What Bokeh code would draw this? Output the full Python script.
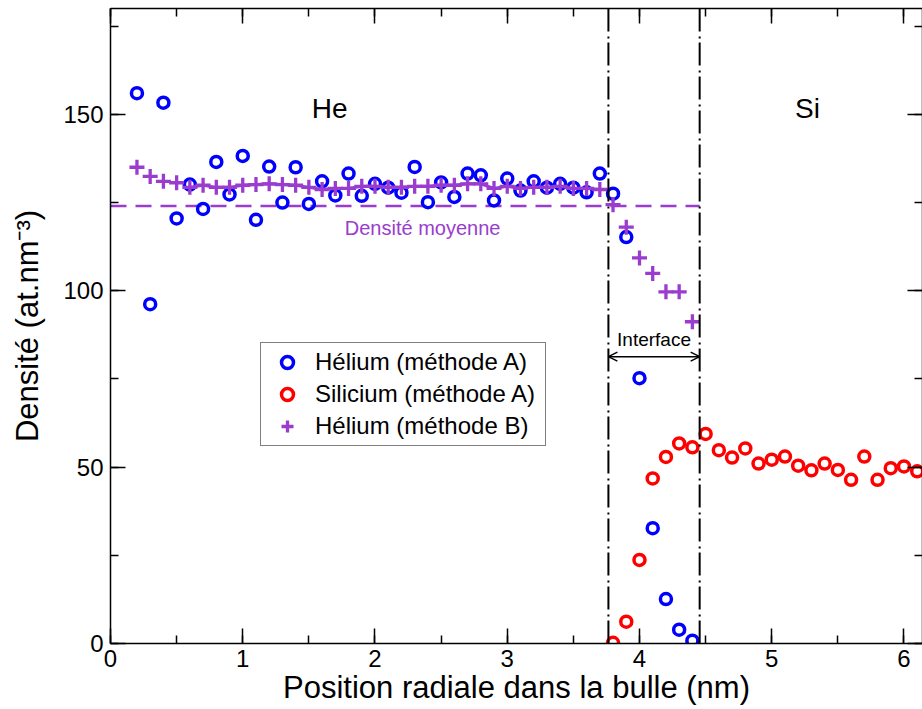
from bokeh.plotting import figure
from bokeh.models import (Span, Arrow, OpenHead, Label, Legend, LegendItem,
                          LinearAxis, SingleIntervalTicker, Range1d)
from bokeh.embed import file_html
from bokeh.resources import INLINE

# ---------------- data ----------------
he_a_x = [0.2, 0.3, 0.4, 0.5, 0.6, 0.7, 0.8, 0.9, 1.0, 1.1, 1.2, 1.3, 1.4, 1.5,
          1.6, 1.7, 1.8, 1.9, 2.0, 2.1, 2.2, 2.3, 2.4, 2.5, 2.6, 2.7, 2.8, 2.9,
          3.0, 3.1, 3.2, 3.3, 3.4, 3.5, 3.6, 3.7, 3.8, 3.9, 4.0, 4.1, 4.2, 4.3, 4.4]
he_a_y = [156.0, 96.2, 153.3, 120.5, 130.1, 123.2, 136.5, 127.3, 138.2, 120.1,
          135.2, 125.0, 135.0, 124.6, 131.0, 127.0, 133.2, 126.9, 130.3, 129.2,
          127.8, 135.1, 125.1, 130.7, 126.6, 133.2, 132.7, 125.6, 131.8, 128.4,
          131.0, 129.2, 130.3, 129.2, 127.9, 133.2, 127.5, 115.2, 75.2, 32.7,
          12.6, 3.9, 0.8]

si_a_x = [3.8, 3.9, 4.0, 4.1, 4.2, 4.3, 4.4, 4.5, 4.6, 4.7, 4.8, 4.9, 5.0, 5.1,
          5.2, 5.3, 5.4, 5.5, 5.6, 5.7, 5.8, 5.9, 6.0, 6.1]
si_a_y = [0.2, 6.2, 23.7, 46.8, 52.9, 56.7, 55.6, 59.4, 54.8, 52.7, 55.3, 51.0,
          52.1, 53.0, 50.4, 49.1, 51.0, 49.2, 46.4, 53.0, 46.4, 49.7, 50.2, 48.8]

he_b_x = [0.2, 0.3, 0.4, 0.5, 0.6, 0.7, 0.8, 0.9, 1.0, 1.1, 1.2, 1.3, 1.4, 1.5,
          1.6, 1.7, 1.8, 1.9, 2.0, 2.1, 2.2, 2.3, 2.4, 2.5, 2.6, 2.7, 2.8, 2.9,
          3.0, 3.1, 3.2, 3.3, 3.4, 3.5, 3.6, 3.7, 3.8, 3.9, 4.0, 4.1, 4.2, 4.3, 4.4]
he_b_y = [135.0, 132.4, 131.0, 130.6, 129.3, 129.9, 129.3, 129.3, 129.9, 130.1,
          130.3, 130.1, 129.9, 129.3, 128.7, 129.0, 129.0, 129.6, 129.6, 129.3,
          129.3, 129.6, 129.6, 129.9, 129.9, 130.3, 130.3, 129.0, 129.6, 129.0,
          129.3, 129.3, 129.6, 129.0, 129.0, 128.7, 124.4, 118.0, 109.3, 104.9,
          99.7, 99.7, 91.2]

# connecting line of method B (drawn over 0.6 - 3.7 nm)
he_b_line_x = he_b_x[4:36]
he_b_line_y = he_b_y[4:36]

mean_density = 124.0
interface_start = 3.765
interface_end = 4.455

PURPLE = "#9a3ccd"
FONT = "Liberation Sans"

# ---------------- figure ----------------
p = figure(width=922, height=709, output_backend="svg", toolbar_location=None,
           x_range=Range1d(0, 6.14), y_range=Range1d(0, 180),
           min_border_left=110, min_border_right=0, min_border_top=8,
           min_border_bottom=66)
p.outline_line_color = None
p.xgrid.visible = False
p.ygrid.visible = False
p.background_fill_color = "white"


def style_axis(ax, labels=True):
    ax.axis_line_color = "black"
    ax.axis_line_width = 1.5
    ax.major_tick_in = 15
    ax.major_tick_out = 0
    ax.minor_tick_in = 8
    ax.minor_tick_out = 0
    ax.major_tick_line_color = "black"
    ax.minor_tick_line_color = "black"
    ax.major_tick_line_width = 1.5
    ax.minor_tick_line_width = 1.5
    ax.major_label_text_font = FONT
    ax.major_label_text_font_size = "24px"
    ax.major_label_text_color = "black"
    ax.axis_label_text_font = FONT
    ax.axis_label_text_font_style = "normal"
    ax.axis_label_text_color = "black"
    ax.axis_label_text_font_size = "31px"
    if not labels:
        ax.major_label_text_font_size = "0px"
        ax.major_label_text_alpha = 0
        ax.major_label_standoff = 0


p.xaxis.ticker = SingleIntervalTicker(interval=1, num_minor_ticks=2)
p.yaxis.ticker = SingleIntervalTicker(interval=50, num_minor_ticks=2)
style_axis(p.xaxis[0])
style_axis(p.yaxis[0])
p.xaxis.major_label_standoff = 6
p.yaxis.major_label_standoff = 7
p.xaxis.axis_label = "Position radiale dans la bulle (nm)"
p.xaxis.axis_label_standoff = 0
p.yaxis.axis_label = "Densité (at.nm⁻³)"
p.yaxis.axis_label_standoff = 15

top_ax = LinearAxis(ticker=SingleIntervalTicker(interval=1, num_minor_ticks=2))
style_axis(top_ax, labels=False)
p.add_layout(top_ax, "above")
right_ax = LinearAxis(ticker=SingleIntervalTicker(interval=50, num_minor_ticks=2))
style_axis(right_ax, labels=False)
p.add_layout(right_ax, "right")

# interface boundaries
for xv in (interface_start, interface_end):
    p.add_layout(Span(location=xv, dimension="height", line_color="black",
                      line_width=2, line_dash="23 5 2 4"))

# mean density
p.line([0, interface_end], [mean_density, mean_density], line_color=PURPLE,
       line_width=2.5, line_dash="16 9")

# data
r_he = p.scatter(he_a_x, he_a_y, marker="circle", size=11, line_width=3.5,
                 line_color="#0000ff", fill_alpha=0)
r_si = p.scatter(si_a_x, si_a_y, marker="circle", size=11, line_width=3.5,
                 line_color="#ff0000", fill_alpha=0)
p.line(he_b_line_x, he_b_line_y, line_color=PURPLE, line_width=3)
r_hb = p.scatter(he_b_x, he_b_y, marker="cross", size=15, line_width=3.3,
                 line_color=PURPLE)

# interface arrow & texts
p.add_layout(Arrow(x_start=interface_start, y_start=81.3, x_end=interface_end,
                   y_end=81.3, line_width=1.5, line_color="black",
                   start=OpenHead(size=9, line_width=1.5, line_color="black"),
                   end=OpenHead(size=9, line_width=1.5, line_color="black")))
p.add_layout(Label(x=(interface_start + interface_end) / 2, y=86.3,
                   text="Interface", text_font=FONT, text_font_size="19px",
                   text_align="center", text_baseline="alphabetic",
                   text_color="black"))
p.add_layout(Label(x=2.36, y=117.8, text="Densité moyenne", text_font=FONT,
                   text_font_size="20px", text_align="center",
                   text_baseline="alphabetic", text_color=PURPLE))
p.add_layout(Label(x=1.657, y=151.6, text="He", text_font=FONT,
                   text_font_size="28px", text_align="center",
                   text_baseline="alphabetic", text_color="black"))
p.add_layout(Label(x=5.27, y=151.6, text="Si", text_font=FONT,
                   text_font_size="28px", text_align="center",
                   text_baseline="alphabetic", text_color="black"))

legend = Legend(items=[LegendItem(label="Hélium (méthode A)", renderers=[r_he]),
                       LegendItem(label="Silicium (méthode A)", renderers=[r_si]),
                       LegendItem(label="Hélium (méthode B)", renderers=[r_hb])],
                location=(150, 197), label_text_font=FONT,
                label_text_font_size="24px", label_text_color="black",
                label_height=30, glyph_height=30, glyph_width=44, spacing=2,
                padding=4, label_standoff=6, label_width=226,
                border_line_color="black", border_line_width=1,
                background_fill_color="white", background_fill_alpha=1,
                margin=0)
p.add_layout(legend)

open("out.html", "w").write(file_html(p, INLINE))
